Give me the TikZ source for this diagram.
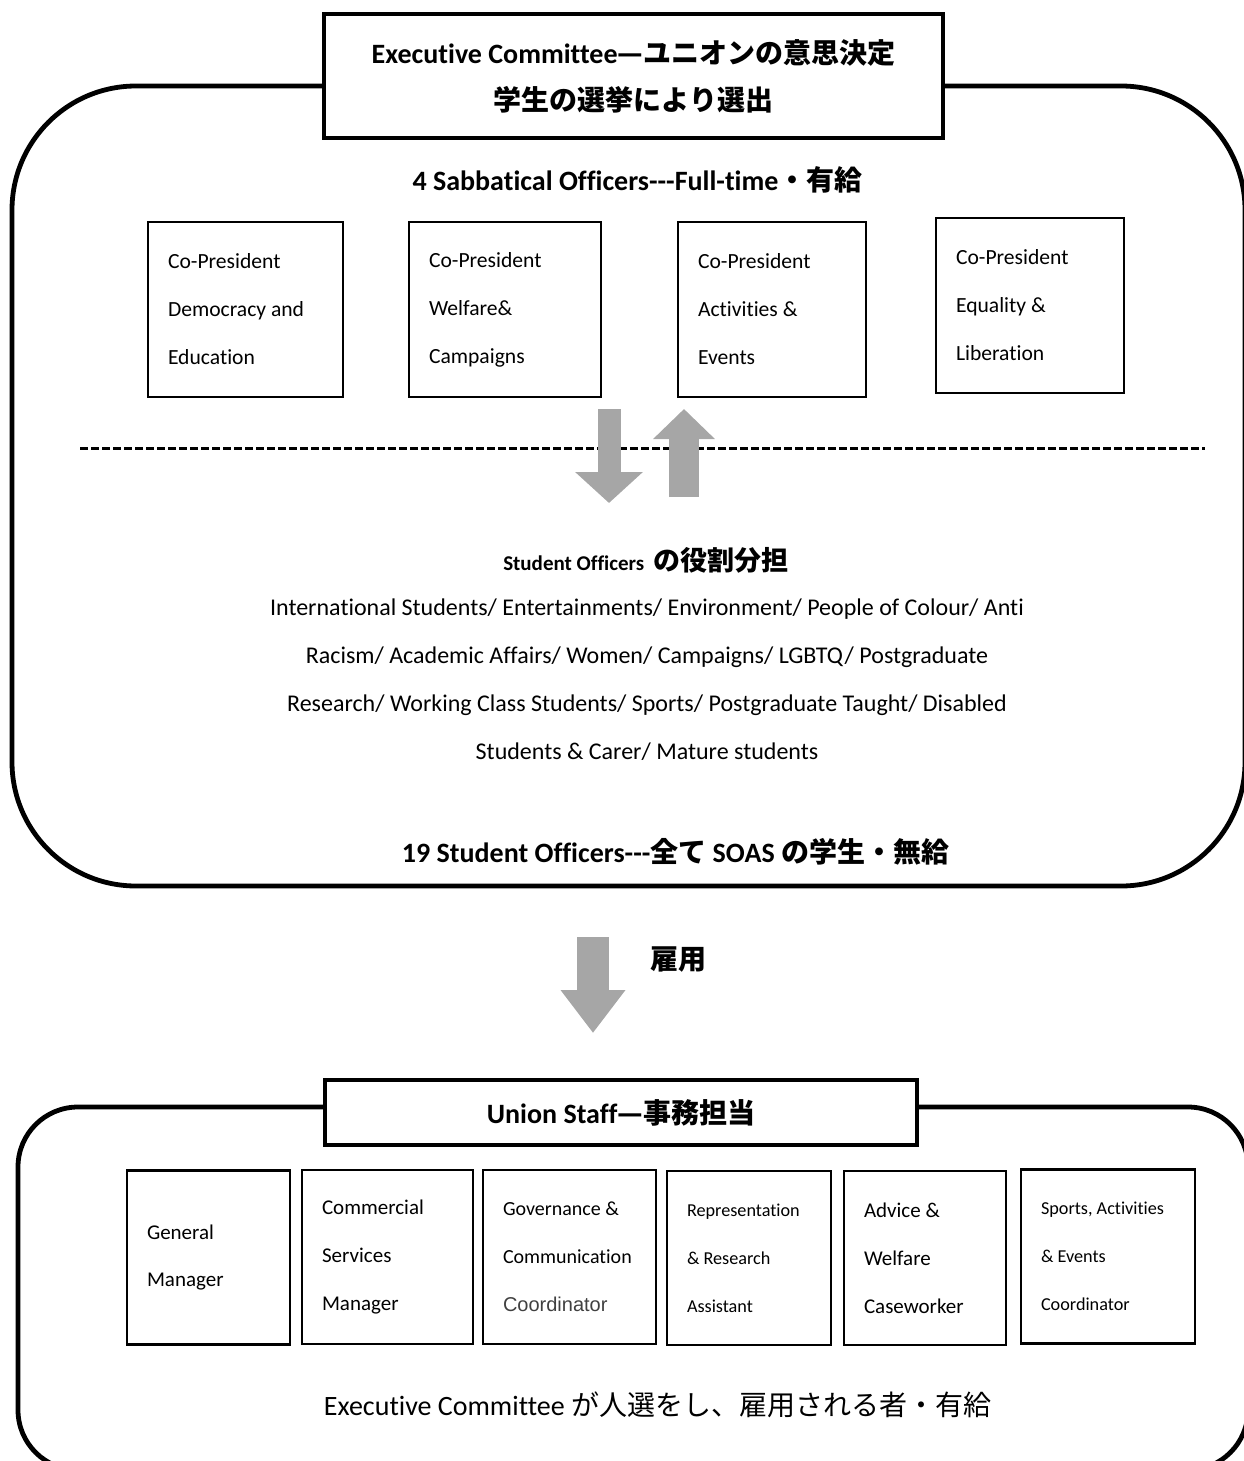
\documentclass[tikz,border=0pt]{standalone}
\usepackage{fontspec}
\setmainfont{Carlito}[Ligatures={NoCommon}]
\newfontfamily\jp{Noto Sans CJK JP}
\newfontfamily\arialf{Liberation Sans}
\usetikzlibrary{arrows.meta}
\definecolor{arrowgray}{RGB}{166,166,166}
\definecolor{coordgray}{RGB}{64,64,64}

\tikzset{
  outerframe/.style={line width=2.4pt, rounded corners=#1},
  headbox/.style={draw, line width=2pt, fill=white, align=center, inner sep=0pt},
  cpbox/.style={draw, line width=1.2pt, align=flush left, inner xsep=10pt, inner ysep=0pt,
    minimum height=87.5pt, text width=#1, font=\fontsize{10.8}{24}\selectfont},
  staffbox/.style={draw, line width=1.2pt, align=flush left, inner xsep=10pt, inner ysep=0pt,
    minimum height=87pt, text width=#1, font=\fontsize{10.5}{24}\selectfont},
  grayarrow/.style={arrowgray, line width=#1}
}

\begin{document}
\begin{tikzpicture}[x=0.5pt,y=-0.5pt]
\useasboundingbox (0,0) rectangle (1243,1461);

\draw[outerframe=62pt] (12,86) rectangle (1245,886);%top frame
\draw[outerframe=30pt] (18,1107) rectangle (1248,1470);%bottom frame

\node[headbox, minimum width=309.5pt, minimum height=62pt,
  font=\bfseries\fontsize{14}{23.5}\selectfont] (exec) at (633.5,76)
  {Executive Committee{\jp —ユニオンの意思決定}\\{\jp 学生の選挙により選出}};

\node[font=\bfseries\fontsize{14}{16}\selectfont] (sabb) at (637.5,180)
  {4 Sabbatical Officers-{}-{}-Full-time{\jp ・有給}};

\node[cpbox=77.5pt, minimum width=97.5pt] (cpdem) at (245.5,309.5) {Co-President\\Democracy and\\Education};
\node[cpbox=76pt, minimum width=96pt] (cpwel) at (505,309.5) {Co-President\\Welfare\&\\Campaigns};
\node[cpbox=74pt, minimum width=94pt] (cpact) at (772,309.5) {Co-President\\Activities \&\\Events};
\node[cpbox=74pt, minimum width=94pt] (cpeq) at (1030,305.5) {Co-President\\Equality \&\\Liberation};

\draw[line width=1.5pt, dash pattern=on 4pt off 1.5pt] (80,448) -- (1205,448);

\draw[grayarrow=11.5pt, -{Triangle[width=33pt,length=15.5pt]}] (609,409) -- (609,503);%down
\draw[grayarrow=15pt, -{Triangle[width=30pt,length=15pt]}] (684,497) -- (684,409);%up

\node (sohead) at (646,560)
  {\bfseries\fontsize{10.5}{12}\selectfont Student Officers \ {\jp\fontsize{13.5}{15}\selectfont の役割分担}};
\node[align=center, font=\fontsize{12}{24}\selectfont] (solist) at (647,680)
  {International Students/ Entertainments/ Environment/ People of Colour/ Anti\\
   Racism/ Academic Affairs/ Women/ Campaigns/ LGBTQ/ Postgraduate\\
   Research/ Working Class Students/ Sports/ Postgraduate Taught/ Disabled\\
   Students \& Carer/ Mature students};
\node[font=\bfseries\fontsize{14}{16}\selectfont] (sofoot) at (675.5,852)
  {19 Student Officers-{}-{}-{\jp 全て} SOAS {\jp の学生・無給}};

\draw[grayarrow=16pt, -{Triangle[width=31pt,length=21.5pt]}] (593,937) -- (593,1033);%employ
\node[font=\jp\bfseries\fontsize{14}{16}\selectfont] (employ) at (678,960) {雇用};

\node[headbox, minimum width=296pt, minimum height=32.5pt,
  font=\bfseries\fontsize{14}{16}\selectfont] (staff) at (621,1112.5)
  {Union Staff{\jp —事務担当}};

\node[staffbox=61.5pt, minimum width=81.5pt] (gm) at (208.5,1257.5) {General\\Manager};
\node[staffbox=65.5pt, minimum width=85.5pt] (csm) at (387.5,1257) {Commercial\\Services\\Manager};
\node[staffbox=66.5pt, minimum width=86.5pt, font=\fontsize{10}{24}\selectfont] (gcc) at (569.5,1257)
  {Governance \&\\Communication\\{\arialf\color{coordgray}Coordinator}};
\node[staffbox=62pt, minimum width=82pt, font=\fontsize{9.1}{24}\selectfont] (rra) at (749,1258)
  {Representation\\\& Research\\Assistant};
\node[staffbox=61pt, minimum width=81pt] (awc) at (925,1258) {Advice \&\\Welfare\\Caseworker};
\node[staffbox=67pt, minimum width=87pt, font=\fontsize{9.1}{24}\selectfont] (sae) at (1108,1256.5)
  {Sports, Activities\\\& Events\\Coordinator};

\node[font=\fontsize{14}{16}\selectfont] (hire) at (657.5,1405)
  {Executive Committee {\jp が人選をし、雇用される者・有給}};
\end{tikzpicture}
\end{document}
